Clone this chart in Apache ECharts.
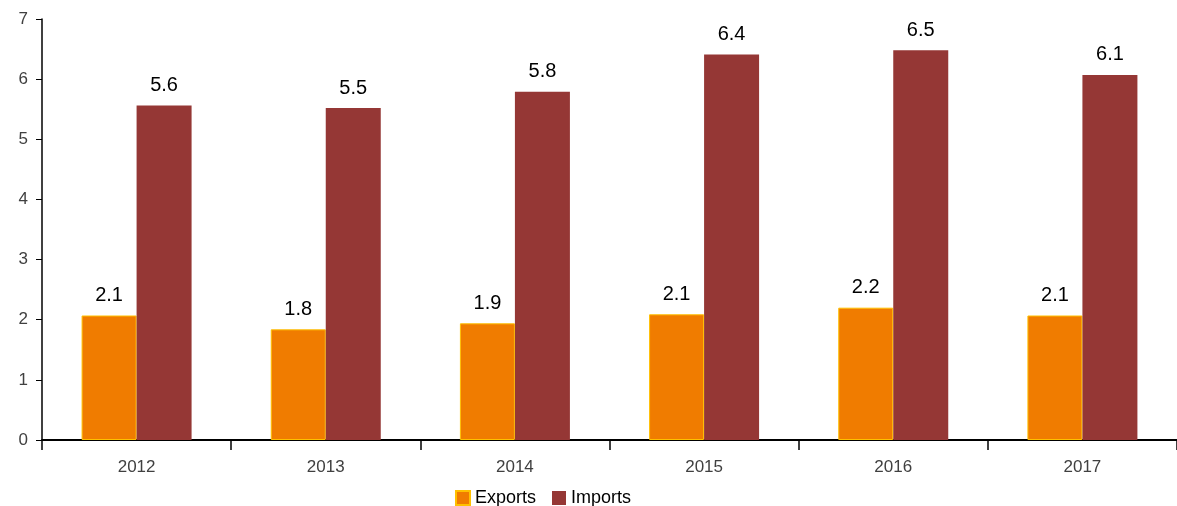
<!DOCTYPE html>
<html>
<head>
<meta charset="utf-8">
<script src="https://cdn.jsdelivr.net/npm/echarts@6/dist/echarts.min.js"></script>
<style>
  html, body { margin: 0; padding: 0; background: #fff; }
  #chart { width: 1177px; height: 506px; }
</style>
</head>
<body>
<div id="chart"></div>
<script>
// years on the x axis
var years = ['2012', '2013', '2014', '2015', '2016', '2017'];
// values
var exportsData = [2.07, 1.84, 1.94, 2.09, 2.2, 2.07];
var importsData = [5.56, 5.52, 5.79, 6.41, 6.48, 6.07];
var yTicks = [0, 1, 2, 3, 4, 5, 6, 7];

var chart = echarts.init(document.getElementById('chart'));

var labelStyle = {
  show: true,
  position: 'top',
  distance: 10,
  color: '#000',
  fontSize: 20,
  fontFamily: 'Liberation Sans',
  formatter: function (p) { return p.value.toFixed(1); }
};

chart.setOption({
  animation: false,
  grid: {
    left: 42,
    top: 19,
    width: 1140,
    bottom: 66
  },
  legend: {
    top: 484,
    left: 450,
    itemWidth: 14,
    itemHeight: 14,
    itemGap: 16,
    icon: 'rect',
    textStyle: { fontSize: 18, color: '#000', fontFamily: 'Liberation Sans' },
    data: ['Exports', 'Imports']
  },
  xAxis: {
    type: 'category',
    data: years,
    axisLine: { lineStyle: { color: '#000', width: 2 } },
    axisTick: { show: true, alignWithLabel: false, interval: 0, length: 10, lineStyle: { color: '#000', width: 1.5 } },
    axisLabel: { color: '#404040', fontSize: 17, margin: 19, fontFamily: 'Liberation Sans' }
  },
  yAxis: {
    type: 'value',
    min: yTicks[0],
    max: yTicks[yTicks.length - 1],
    interval: 1,
    splitLine: { show: false },
    axisLine: { show: true, lineStyle: { color: '#000', width: 1.5 } },
    axisTick: { show: true, length: 6, lineStyle: { color: '#000' } },
    axisLabel: { color: '#404040', fontSize: 17, margin: 14, fontFamily: 'Liberation Sans' }
  },
  series: [
    {
      name: 'Exports',
      type: 'bar',
      data: exportsData,
      barWidth: 55,
      barGap: '0%',
      itemStyle: { color: '#F07C00', borderColor: '#FFC000', borderWidth: 1 },
      label: labelStyle
    },
    {
      name: 'Imports',
      type: 'bar',
      data: importsData,
      barWidth: 55,
      barGap: '0%',
      itemStyle: { color: '#953735' },
      label: labelStyle
    }
  ]
});
</script>
</body>
</html>
